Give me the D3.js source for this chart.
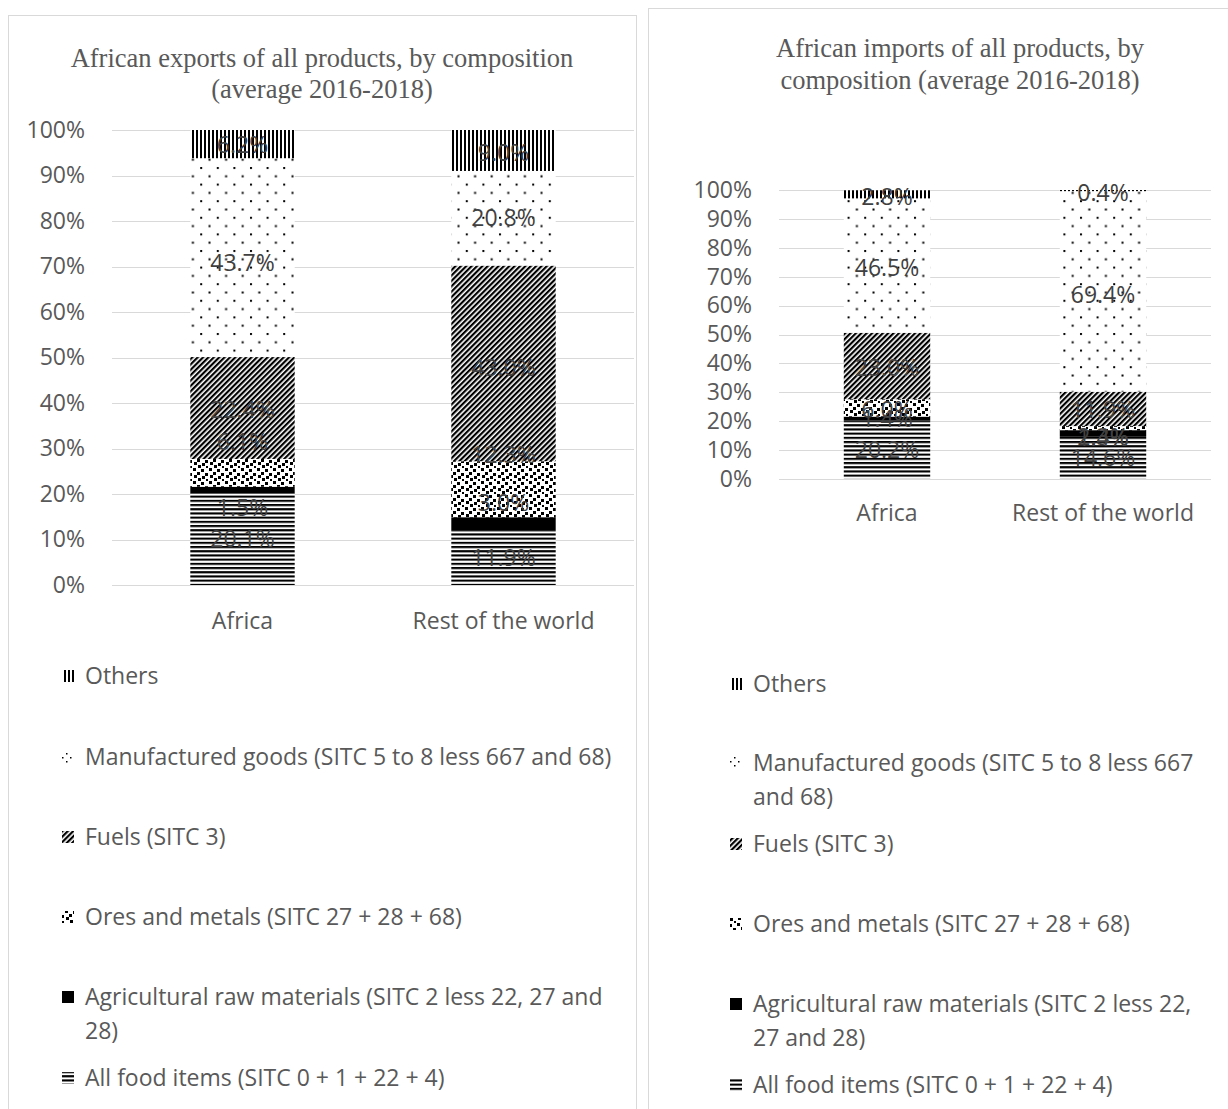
<!DOCTYPE html>
<html>
<head>
<meta charset="utf-8">
<script src="https://cdn.jsdelivr.net/npm/d3@7/dist/d3.min.js"></script>
<style>
  body { margin: 0; background: #fff; }
  svg { display: block; }
  .sans { font-family: "Open Sans", "Noto Sans", "DejaVu Sans", sans-serif; }
  .serif { font-family: "Liberation Serif", "DejaVu Serif", serif; }
</style>
</head>
<body>
<svg id="chart" width="1228" height="1109"></svg>
<script>
// ---- data -------------------------------------------------------------
const categories = ["Africa", "Rest of the world"];
const seriesKeys = ["food", "agri", "ores", "fuels", "manuf", "others"];

// shares in percent, one row per series (bottom to top), one column per category
const exportShares = [
  [20.1, 11.9],
  [1.5, 3.0],
  [6.1, 12.3],
  [22.4, 43.0],
  [43.7, 20.8],
  [6.2, 9.0]
];
const importShares = [
  [20.2, 14.6],
  [1.4, 2.3],
  [6.0, 1.4],
  [23.0, 11.9],
  [46.5, 69.4],
  [2.8, 0.4]
];
const yTicks = [0, 10, 20, 30, 40, 50, 60, 70, 80, 90, 100];

const exportTitle = ["African exports of all products, by composition", "(average 2016-2018)"];
const importTitle = ["African imports of all products, by", "composition (average 2016-2018)"];

// legend entries, top to bottom, with their wrapped lines
const legendOrder = ["others", "manuf", "fuels", "ores", "agri", "food"];
const exportLegendLines = [
  ["Others"],
  ["Manufactured goods (SITC 5 to 8 less 667 and 68)"],
  ["Fuels (SITC 3)"],
  ["Ores and metals (SITC 27 + 28 + 68)"],
  ["Agricultural raw materials (SITC 2 less 22, 27 and", "28)"],
  ["All food items (SITC 0 + 1 + 22 + 4)"]
];
const importLegendLines = [
  ["Others"],
  ["Manufactured goods (SITC 5 to 8 less 667", "and 68)"],
  ["Fuels (SITC 3)"],
  ["Ores and metals (SITC 27 + 28 + 68)"],
  ["Agricultural raw materials (SITC 2 less 22,", "27 and 28)"],
  ["All food items (SITC 0 + 1 + 22 + 4)"]
];

// ---- layout -----------------------------------------------------------
// vertical label shifts (px) that keep small segment labels apart
const exportLabelShift = [[0, 0], [18, -21], [-31, -34], [2, 5], [5, 0], [1, 2]];
const importLabelShift = [[0, 0], [0, 3], [2, 10], [2, 1], [2, 4], [3, 2]];

const FONT = 23;

const panels = [
  {
    shares: exportShares, title: exportTitle, legend: exportLegendLines, shift: exportLabelShift,
    frame: [8, 15, 628, 1100],
    titleX: 322, titleY: [58, 89],
    xRange: [112, 634], yRange: [585, 130], gridX: [112, 634],
    catY: 621,
    legendX: 62, legendRows: [676, 757, 837, 917, 997, 1078]
  },
  {
    shares: importShares, title: importTitle, legend: importLegendLines, shift: importLabelShift,
    frame: [648, 8, 600, 1110],
    titleX: 960, titleY: [48, 80],
    xRange: [779, 1211], yRange: [479, 190], gridX: [779, 1211],
    catY: 513,
    legendX: 730, legendRows: [684, 763, 844, 924, 1004, 1085]
  }
];

const svg = d3.select("#chart");
const defs = svg.append("defs");

// ---- fill patterns ----------------------------------------------------
function pattern(id, w, h, attrs) {
  const p = defs.append("pattern").attr("id", id)
    .attr("patternUnits", "userSpaceOnUse").attr("width", w).attr("height", h);
  if (attrs) Object.entries(attrs).forEach(([k, v]) => p.attr(k, v));
  p.append("rect").attr("width", w).attr("height", h).attr("fill", "#fff");
  return p;
}
// horizontal stripes
pattern("p-food", 4, 4.2).append("rect").attr("y", 0).attr("width", 4).attr("height", 2.1).attr("fill", "#000");
// confetti squares
{
  const p = pattern("p-ores", 16, 13);
  [[1, 0], [9, 1], [5, 4], [13, 5], [2, 7], [10, 8], [6, 10], [14, 11]].forEach(([x, y]) =>
    p.append("rect").attr("x", x).attr("y", y).attr("width", 3).attr("height", 3).attr("fill", "#000"));
}
// wide upward diagonal
pattern("p-fuels", 3.8, 10, { patternTransform: "rotate(45)" })
  .append("rect").attr("width", 2.2).attr("height", 10).attr("fill", "#000");
// sparse dots
{
  const p = pattern("p-manuf", 16.6, 16.6);
  p.append("rect").attr("x", 1).attr("y", 1).attr("width", 2).attr("height", 2).attr("fill", "#000");
  p.append("rect").attr("x", 9.3).attr("y", 9.3).attr("width", 2).attr("height", 2).attr("fill", "#000");
}
// smaller dot tile for the legend swatch
{
  const p = pattern("p-manuf-key", 8, 8);
  p.append("rect").attr("x", 2).attr("y", 1).attr("width", 1.5).attr("height", 1.5).attr("fill", "#000");
  p.append("rect").attr("x", 6).attr("y", 5).attr("width", 1.5).attr("height", 1.5).attr("fill", "#000");
}
// vertical stripes
pattern("p-others", 4, 4).append("rect").attr("width", 2).attr("height", 4).attr("fill", "#000");

const fills = {
  food: "url(#p-food)", agri: "#000", ores: "url(#p-ores)",
  fuels: "url(#p-fuels)", manuf: "url(#p-manuf)", others: "url(#p-others)"
};
const keyFills = Object.assign({}, fills, { manuf: "url(#p-manuf-key)" });

// ---- panels -----------------------------------------------------------
panels.forEach(cfg => {
  const g = svg.append("g");

  g.append("rect")
    .attr("x", cfg.frame[0] + 0.5).attr("y", cfg.frame[1] + 0.5)
    .attr("width", cfg.frame[2]).attr("height", cfg.frame[3])
    .attr("fill", "none").attr("stroke", "#d9d9d9").attr("stroke-width", 1);

  g.append("text").attr("class", "serif")
    .attr("text-anchor", "middle").attr("fill", "#595959").attr("font-size", 26.5)
    .selectAll("tspan").data(cfg.title).join("tspan")
    .attr("x", cfg.titleX).attr("y", (d, i) => cfg.titleY[i]).attr("dy", "0.35em")
    .text(d => d);

  const x = d3.scaleBand().domain(categories).range(cfg.xRange)
    .paddingInner(0.6).paddingOuter(0.3);
  const y = d3.scaleLinear().domain([0, 100]).range(cfg.yRange);

  // gridlines
  g.append("g").selectAll("line").data(yTicks).join("line")
    .attr("x1", cfg.gridX[0]).attr("x2", cfg.gridX[1])
    .attr("y1", d => Math.round(y(d)) + 0.5).attr("y2", d => Math.round(y(d)) + 0.5)
    .attr("stroke", "#d9d9d9").attr("stroke-width", 1);

  // y axis labels
  const yAxis = d3.axisLeft(y).tickValues(yTicks).tickFormat(d => d + "%").tickSize(0).tickPadding(27);
  const ya = g.append("g").attr("transform", `translate(${cfg.xRange[0]},0)`).call(yAxis);
  ya.select(".domain").remove();
  ya.selectAll("text").attr("class", "sans").attr("font-size", FONT).attr("fill", "#595959");

  // x axis labels
  const xAxis = d3.axisBottom(x).tickSize(0).tickPadding(0);
  const xa = g.append("g").attr("transform", `translate(0,${cfg.catY})`).call(xAxis);
  xa.select(".domain").remove();
  xa.selectAll("text").attr("class", "sans").attr("font-size", FONT).attr("fill", "#595959").attr("dy", "0.35em");

  // stacked bars
  const rows = categories.map((c, ci) => {
    const r = { cat: c };
    seriesKeys.forEach((k, si) => r[k] = cfg.shares[si][ci]);
    return r;
  });
  const stacked = d3.stack().keys(seriesKeys)(rows);

  stacked.forEach(layer => {
    g.append("g").selectAll("rect").data(layer).join("rect")
      .attr("x", d => x(d.data.cat))
      .attr("width", x.bandwidth())
      .attr("y", d => y(d[1]))
      .attr("height", d => y(d[0]) - y(d[1]))
      .attr("fill", fills[layer.key]);
  });

  // segment labels
  stacked.forEach((layer, si) => {
    g.append("g").selectAll("text").data(layer).join("text")
      .attr("class", "sans").attr("font-size", FONT).attr("fill", "#404040")
      .attr("text-anchor", "middle").attr("dy", "0.35em")
      .attr("x", d => x(d.data.cat) + x.bandwidth() / 2)
      .attr("y", (d, ci) => (y(d[0]) + y(d[1])) / 2 + cfg.shift[si][ci])
      .text(d => d3.format(".1f")(d.data[layer.key]) + "%");
  });

  // legend
  legendOrder.forEach((key, li) => {
    const lines = cfg.legend[li];
    const cy = cfg.legendRows[li];
    g.append("rect")
      .attr("x", cfg.legendX).attr("y", cy - 6)
      .attr("width", 12).attr("height", 12)
      .attr("fill", keyFills[key]);
    g.append("text").attr("class", "sans").attr("font-size", FONT).attr("fill", "#595959")
      .selectAll("tspan").data(lines).join("tspan")
      .attr("x", cfg.legendX + 23).attr("y", (d, i) => cy + i * 34).attr("dy", "0.35em")
      .text(d => d);
  });
});
</script>
</body>
</html>
